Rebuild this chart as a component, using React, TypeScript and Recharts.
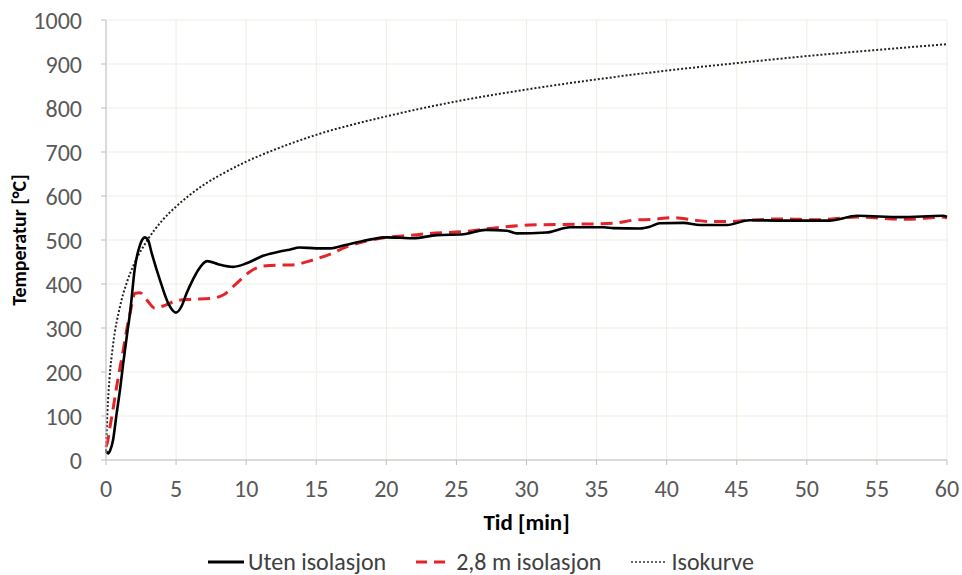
import React from "react";
import { LineChart, Line, XAxis, YAxis, CartesianGrid, Legend } from "recharts";

// Temperatur over tid: med/uten isolasjon, sammen med ISO-kurven.

const xTicks = [0, 5, 10, 15, 20, 25, 30, 35, 40, 45, 50, 55, 60];
const yTicks = [0, 100, 200, 300, 400, 500, 600, 700, 800, 900, 1000];

const utenTid = [
  0, 0.15, 0.3, 0.5, 0.76, 1.0, 1.23, 1.5, 1.71, 2.07, 2.43, 2.78, 3.0, 3.26, 3.85, 4.44, 4.99, 5.4,
  5.75, 6.2, 6.58, 7.23, 8.0, 9.08, 10.03, 11.2, 12.4, 13.1, 13.8, 15.0, 16.0, 17.0, 18.1, 19.0, 20.0,
  21.0, 21.9, 23.6, 25.5, 27.1, 28.6, 29.3, 31.4, 33.1, 35.5, 36.2, 38.1, 38.8, 39.5, 41.2, 42.4,
  44.3, 45.9, 48.3, 51.6, 53.6, 56.7, 59.7, 60,
];
const utenTemp = [
  20, 15, 22, 45, 106, 160, 220, 285, 333, 439, 489, 506, 500, 470, 409, 356, 335, 350,
  379, 410, 432, 452, 445, 439, 447, 464, 474, 478, 483, 481, 481, 488, 496, 502, 506,
  505, 504, 511, 513, 523, 521, 515, 517, 529, 529, 527, 526, 530, 538, 539, 534,
  534, 545, 544, 544, 555, 552, 555, 553,
];

const medTid = [
  0, 0.1, 0.29, 0.5, 0.76, 1.0, 1.23, 1.5, 1.71, 2.07, 2.43, 2.9, 3.49, 4.08, 5.03, 5.98, 7.4, 8.36,
  9.3, 10.27, 11.2, 12.4, 13.1, 14.8, 16.0, 17.2, 18.5, 20, 21.5, 23.1, 25.5, 27.6, 30.2, 33.8, 36.2,
  37.6, 39.0, 40.5, 42.0, 43.1, 44.5, 45.9, 48.3, 50.7, 53.6, 57.1, 59.7, 60,
];
const medTemp = [
  30, 40, 76, 115, 167, 210, 250, 300, 333, 379, 380, 364, 345, 350, 362, 365, 367, 375,
  401, 428, 441, 443, 443, 455, 468, 485, 497, 506, 510, 515, 519, 527, 534, 536, 538,
  545, 547, 551, 545, 542, 542, 545, 548, 546, 552, 547, 552, 550,
];

const kurveTid = [0, 0.1, 0.25, 0.5, 1, 1.5, 2, 3, 4, 5, 6, 7, 8, 10, 12, 15, 20, 25, 30, 35, 40, 45, 50, 55, 60];
const kurveTemp = [20, 108, 185, 261, 349, 405, 445, 502, 544, 576, 603, 626, 645, 678, 705, 739, 781, 815, 842, 865, 885, 902, 918, 932, 945];

const utenData = utenTid.map((t, i) => ({ t, v: utenTemp[i] }));
const medData = medTid.map((t, i) => ({ t, v: medTemp[i] }));
const kurveData = kurveTid.map((t, i) => ({ t, v: kurveTemp[i] }));

const FONT = "Carlito, 'Liberation Sans Narrow', 'Open Sans', sans-serif";
const TICK = { fontSize: 24, fill: "#595959", fontFamily: FONT };

function LegendContent() {
  const items = [
    { label: "Uten isolasjon", stroke: "#000", dash: undefined as string | undefined, w: 3 },
    { label: "2,8 m isolasjon", stroke: "#e3252b", dash: "11 7", w: 3 },
    { label: "Isokurve", stroke: "#333", dash: "2 2", w: 1.6 },
  ];
  return (
    <div style={{ display: "flex", justifyContent: "center", gap: 30, fontFamily: FONT, fontSize: 24, color: "#404040", lineHeight: "22px", height: 22 }}>
      {items.map((it) => (
        <div key={it.label} style={{ display: "flex", alignItems: "center" }}>
          <svg width={36} height={10} style={{ marginRight: 4 }}>
            <line x1={0} y1={5} x2={36} y2={5} stroke={it.stroke} strokeWidth={it.w} strokeDasharray={it.dash} />
          </svg>
          <span>{it.label}</span>
        </div>
      ))}
    </div>
  );
}

export default function App() {
  return (
    <div style={{ position: "absolute", left: 0, top: 0, width: 962, height: 575, background: "#fff" }}>
      <LineChart width={962} height={575} margin={{ top: 20, right: 15, left: 0, bottom: 0 }}>
        <CartesianGrid stroke="#efede4" strokeWidth={1} />
        <XAxis
          type="number"
          dataKey="t"
          domain={[0, 60]}
          ticks={xTicks}
          interval={0}
          allowDuplicatedCategory={false}
          tick={TICK}
          tickSize={5}
          tickMargin={15}
          stroke="#bfbfbf"
          height={93}
          label={{ value: "Tid [min]", position: "insideTop", offset: 54, style: { fontFamily: FONT, fontSize: 23, fontWeight: 700, fill: "#000" } }}
        />
        <YAxis
          type="number"
          domain={[0, 1000]}
          ticks={yTicks}
          interval={0}
          tick={TICK}
          tickSize={5}
          tickMargin={19}
          stroke="#bfbfbf"
          width={106}
          label={{ value: "Temperatur [°C]", angle: -90, position: "insideLeft", offset: 19, style: { textAnchor: "middle", fontFamily: FONT, fontSize: 20, fontWeight: 700, fill: "#000" } }}
        />
        <Legend verticalAlign="bottom" height={22} content={<LegendContent />} wrapperStyle={{ left: 0, width: 962, top: 551, height: 22 }} />
        <Line data={kurveData} dataKey="v" type="monotone" stroke="#222" strokeWidth={2} strokeDasharray="2 2" dot={false} isAnimationActive={false} />
        <Line data={medData} dataKey="v" type="monotone" stroke="#e3252b" strokeWidth={3} strokeDasharray="12 7" dot={false} isAnimationActive={false} />
        <Line data={utenData} dataKey="v" type="monotone" stroke="#000" strokeWidth={2.6} dot={false} isAnimationActive={false} />
      </LineChart>
    </div>
  );
}
